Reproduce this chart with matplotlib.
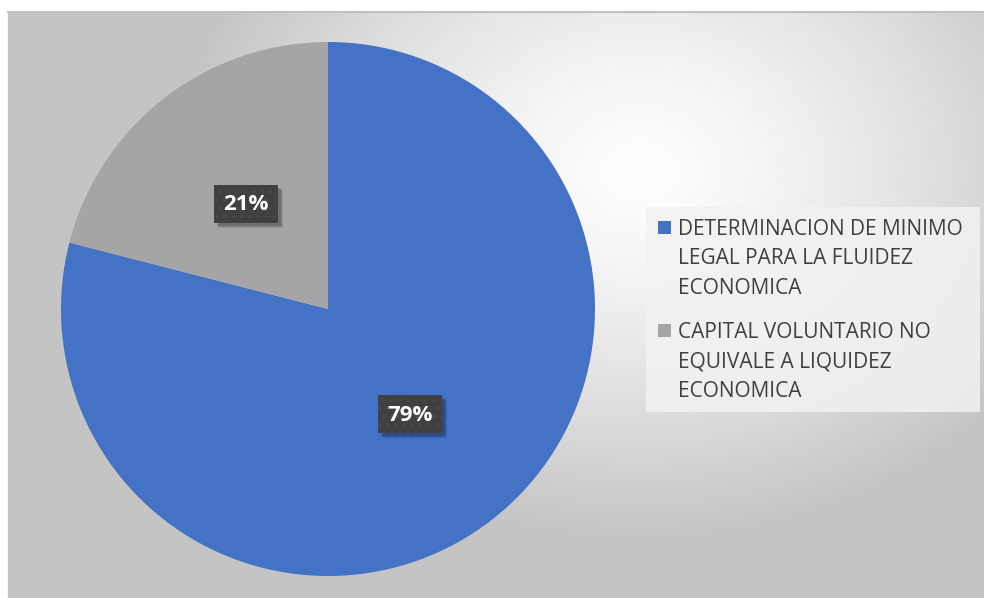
import numpy as np
import matplotlib
matplotlib.use("Agg")
import matplotlib.pyplot as plt
from matplotlib.patches import Rectangle

# ---- data ----
categories = ["DETERMINACION DE MINIMO\nLEGAL PARA LA FLUIDEZ\nECONOMICA",
              "CAPITAL VOLUNTARIO NO\nEQUIVALE A LIQUIDEZ\nECONOMICA"]
values = [79, 21]
colors = ["#4472C4", "#A5A5A5"]

W, H = 984, 598
fig = plt.figure(figsize=(W / 100, H / 100), dpi=100)
fig.patch.set_facecolor("white")

def fx(px):
    return px / W

def fy(py):
    return 1 - py / H

# ---- background gradient (chart area) ----
x0, y0 = 8, 12
bg = fig.add_axes([fx(x0), 0, 1 - fx(x0), fy(y0)])
bg.set_axis_off()
xs = np.arange(x0, W) + 0.5
ys = np.arange(y0, H) + 0.5
X, Y = np.meshgrid(xs, ys)
d = np.sqrt(((X - 640) / 470) ** 2 + ((Y - 170) / 370) ** 2)
v = 1 - 0.23 * np.clip(d, 0, 1) ** 1.3
img = np.dstack([v, v, v])
bg.imshow(img, aspect="auto", extent=[0, 1, 0, 1], origin="upper", interpolation="bilinear")
bg.set_xlim(0, 1)
bg.set_ylim(0, 1)
fig.add_artist(plt.Line2D([fx(x0), 1], [fy(y0), fy(y0)], color="#c0c0c0", lw=1.5))
fig.add_artist(plt.Line2D([fx(x0), fx(x0)], [0, fy(y0)], color="#c8c8c8", lw=1))

# ---- pie ----
cx, cy, r = 328, 309, 267
ax = fig.add_axes([fx(cx - r), fy(cy + r), 2 * r / W, 2 * r / H])
ax.set_axis_off()
wedges, texts = ax.pie(values, colors=colors, startangle=90, counterclock=False,
                       radius=1, wedgeprops=dict(linewidth=0))
ax.set_xlim(-1, 1)
ax.set_ylim(-1, 1)

bw, bh = 64, 38
for w, val in zip(wedges, values):
    ang = np.deg2rad((w.theta1 + w.theta2) / 2)
    tx, ty = 0.5 * np.cos(ang), 0.5 * np.sin(ang)
    px = cx + tx * r
    py = cy - ty * r
    # soft shadow
    for k, a in [(5, 0.10), (4, 0.12), (3, 0.14)]:
        fig.add_artist(Rectangle((fx(px - bw / 2 + k), fy(py + bh / 2 + k)), fx(bw), fy(0) - fy(bh),
                                 transform=fig.transFigure, facecolor="black", alpha=a,
                                 edgecolor="none"))
    fig.add_artist(Rectangle((fx(px - bw / 2), fy(py + bh / 2)), fx(bw), fy(0) - fy(bh),
                             transform=fig.transFigure, facecolor="#404040",
                             edgecolor="#4b4b4b", linewidth=0, hatch=".."))
    fig.text(fx(px), fy(py + 1), f"{val}%", ha="center", va="center", fontsize=16,
             fontweight="bold", family="Open Sans", color="white")

# ---- legend (manual, marker aligned to first line) ----
fig.add_artist(Rectangle((fx(646), fy(412)), fx(980) - fx(646), fy(207) - fy(412),
                         transform=fig.transFigure, facecolor="#f2f2f2", alpha=0.85,
                         edgecolor="none"))
first_baselines = [235, 338]
line_gap = 29.5
for lab, col, b0 in zip(categories, colors, first_baselines):
    fig.add_artist(Rectangle((fx(658), fy(b0 - 1)), fx(13), fy(0) - fy(13),
                             transform=fig.transFigure, facecolor=col, edgecolor="none"))
    for i, line in enumerate(lab.split("\n")):
        fig.text(fx(678), fy(b0 + i * line_gap), line, ha="left", va="baseline",
                 fontsize=15, family="Open Sans", color="#404040")

fig.savefig("out.png", dpi=100)
